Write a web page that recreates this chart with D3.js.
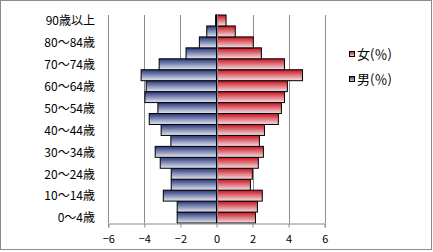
<!DOCTYPE html>
<html><head><meta charset="utf-8">
<script src="https://cdn.jsdelivr.net/npm/d3@7"></script>
<style>body{margin:0;background:#fff;}svg{display:block;}</style>
</head><body>
<svg id="c" width="433" height="252"></svg>
<script>
const categories = ["0～4歳","5～9歳","10～14歳","15～19歳","20～24歳","25～29歳","30～34歳","35～39歳","40～44歳","45～49歳","50～54歳","55～59歳","60～64歳","65～69歳","70～74歳","75～79歳","80～84歳","85～89歳","90歳以上"];
const male =   [-2.18,-2.18,-2.95,-2.51,-2.51,-3.12,-3.40,-2.53,-3.07,-3.73,-3.25,-3.97,-3.90,-4.18,-3.18,-1.69,-0.95,-0.54,-0.05];
const female = [2.16,2.27,2.54,1.88,1.99,2.32,2.60,2.38,2.66,3.43,3.60,3.77,3.93,4.77,3.77,2.49,2.04,1.04,0.53];
const xTicks = [-6,-4,-2,0,2,4,6];
const labeledCats = ["0～4歳","10～14歳","20～24歳","30～34歳","40～44歳","50～54歳","60～64歳","70～74歳","80～84歳","90歳以上"];
const seriesNames = ["女(％)","男(％)"];

(function(){
const svg = d3.select("#c");
const font = "'Noto Sans CJK JP', sans-serif";
const defs = svg.append("defs");
function grad(id, dark, light){
  const g = defs.append("linearGradient").attr("id",id).attr("x1",0).attr("y1",0).attr("x2",0).attr("y2",1);
  g.append("stop").attr("offset","0%").attr("stop-color",dark);
  g.append("stop").attr("offset","100%").attr("stop-color",light);
}
grad("gm","#26357a","#e4e8f2");
grad("gf","#c8101e","#f6e0e3");

svg.append("rect").attr("x",0.5).attr("y",0.5).attr("width",431).attr("height",249)
  .attr("fill","#fff").attr("stroke","#8c8c8c");

const plotTop=15, plotBottom=223;
const x = d3.scaleLinear().domain([-6,6]).range([108.3,324.7]);
const y = d3.scaleBand().domain(categories.slice().reverse()).range([plotTop,plotBottom]).padding(0);

svg.append("g").selectAll("line").data(xTicks.filter(t=>t!==0)).join("line")
  .attr("x1",d=>Math.round(x(d))+0.5).attr("x2",d=>Math.round(x(d))+0.5)
  .attr("y1",plotTop).attr("y2",plotBottom).attr("stroke","#8c8c8c");

svg.append("g").selectAll("rect").data(categories).join("rect")
  .attr("x",(d,i)=>x(male[i])).attr("y",d=>y(d))
  .attr("width",(d,i)=>x(0)-x(male[i])).attr("height",y.bandwidth())
  .attr("fill","url(#gm)").attr("stroke","#000").attr("stroke-width",1);
svg.append("g").selectAll("rect").data(categories).join("rect")
  .attr("x",x(0)).attr("y",d=>y(d))
  .attr("width",(d,i)=>x(female[i])-x(0)).attr("height",y.bandwidth())
  .attr("fill","url(#gf)").attr("stroke","#000").attr("stroke-width",1);

const x0 = Math.round(x(0))+0.5;
svg.append("line").attr("x1",x0).attr("x2",x0).attr("y1",plotTop).attr("y2",plotBottom).attr("stroke","#8c8c8c");

const xAxis = d3.axisBottom(x).tickValues(xTicks).tickSize(4).tickPadding(8);
const gx = svg.append("g").attr("transform",`translate(0,${plotBottom+0.5})`).call(xAxis);
gx.select(".domain").attr("stroke","#8c8c8c");
gx.selectAll(".tick line").attr("stroke","#8c8c8c");
gx.selectAll(".tick text").attr("font-family",font).attr("font-size","11px").attr("fill","#000");

svg.append("g").selectAll("text").data(labeledCats).join("text")
  .attr("x",95).attr("y",d=>y(d)+y.bandwidth()/2+0.5).attr("dy","0.36em")
  .attr("text-anchor","end").attr("font-family",font).attr("font-size","12px").attr("fill","#000")
  .text(d=>d);

const legFills = ["url(#gf)","url(#gm)"];
const lg = svg.append("g").selectAll("g").data(seriesNames).join("g")
  .attr("transform",(d,i)=>`translate(349,${54+i*25})`);
lg.append("rect").attr("x",0.5).attr("y",-2.5).attr("width",5).attr("height",5)
  .attr("fill",(d,i)=>legFills[i]).attr("stroke","#000");
lg.append("text").attr("x",8).attr("y",0).attr("dy","0.36em")
  .attr("font-family",font).attr("font-size","13px").attr("fill","#000").text(d=>d);
})();
</script>
</body></html>
